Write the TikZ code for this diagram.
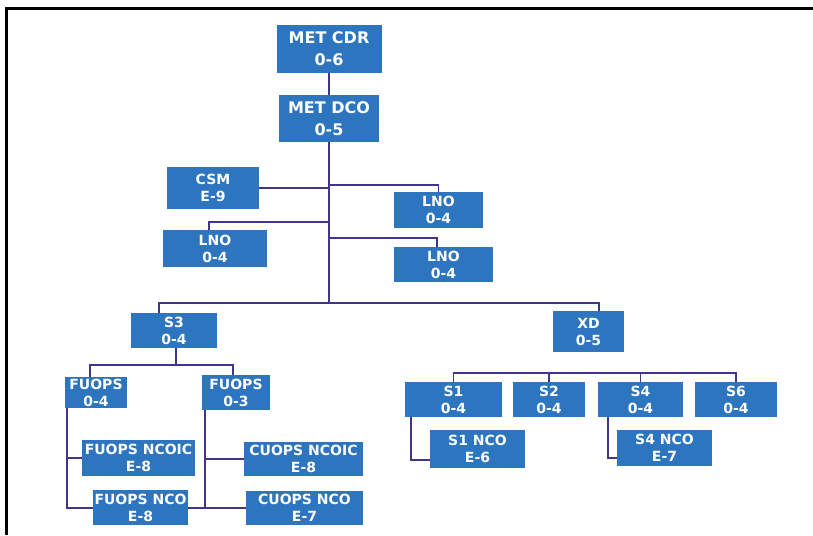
\documentclass[tikz,border=0pt]{standalone}
\usepackage{fontspec}
\setmainfont{DejaVu Sans}
\usetikzlibrary{backgrounds, positioning}
\definecolor{unit-fill}{RGB}{45,117,190}
\definecolor{link-draw}{RGB}{64,52,140}
\tikzset{
  unit/.style={fill=unit-fill, text=white, align=center, inner sep=0pt, font=\bfseries\fontsize{14}{17}\selectfont},
  cmd/.style={font=\bfseries\fontsize{16}{22}\selectfont},
  box/.style 2 args={minimum width=#1, minimum height=#2},
  link/.style={draw=link-draw, line width=1.8pt}
}
\begin{document}
\begin{tikzpicture}[x=1pt, y=-1pt]
    \useasboundingbox (0,0) rectangle (813,535);

    % Page frame
    \draw[line width=2.5pt] (6.5,535) -- (6.5,8.5) -- (813,8.5);

    % Command section
    \node[unit, cmd, box={105}{48}] (cdr) at (329,49) {MET CDR\\0-6};
    \node[unit, cmd, box={100}{47}] (dco) at (329,118.5) {MET DCO\\0-5};

    % Staff
    \node[unit, box={92}{42}] (csm) at (213,188) {CSM\\E-9};
    \node[unit, box={89}{36}] (lnoA) at (438.5,210) {LNO\\0-4};
    \node[unit, box={104}{37}] (lnoB) at (215,248.5) {LNO\\0-4};
    \node[unit, box={99}{35}] (lnoC) at (443.5,264.5) {LNO\\0-4};

    % Sections
    \node[unit, box={86}{35}] (s3) at (174,330.5) {S3\\0-4};
    \node[unit, box={71}{41}] (xd) at (588.5,331.5) {XD\\0-5};

    % S3 flights
    \node[unit, box={62}{31}] (fuA) at (96,392.5) {FUOPS\\0-4};
    \node[unit, box={68}{35}] (fuB) at (236,392.5) {FUOPS\\0-3};
    \node[unit, box={113}{36}] (fuNCOIC) at (138.5,458) {FUOPS NCOIC\\E-8};
    \node[unit, box={119}{34}] (cuNCOIC) at (303.5,459) {CUOPS NCOIC\\E-8};
    \node[unit, box={95}{35}] (fuNCO) at (140.5,507.5) {FUOPS NCO\\E-8};
    \node[unit, box={117}{34}] (cuNCO) at (304.5,508) {CUOPS NCO\\E-7};

    % XD staff
    \node[unit, box={97}{35}] (s1) at (453.5,399.5) {S1\\0-4};
    \node[unit, box={72}{35}] (s2) at (549,399.5) {S2\\0-4};
    \node[unit, box={85}{35}] (s4) at (640.5,399.5) {S4\\0-4};
    \node[unit, box={82}{35}] (s6) at (736,399.5) {S6\\0-4};
    \node[unit, box={95}{38}] (s1nco) at (477.5,449) {S1 NCO\\E-6};
    \node[unit, box={95}{36}] (s4nco) at (664.5,448) {S4 NCO\\E-7};

    \begin{scope}[on background layer]
        % Trunk
        \draw[link] (cdr) -- (dco);
        \coordinate (hub) at (dco.south |- 0,303);
        \draw[link] (dco.south) -- (hub);

        % Staff branches
        \draw[link] (dco.south |- 0,185) -| (lnoA.north);
        \draw[link] (csm.east) -- (csm.east -| hub);
        \draw[link] (dco.south |- 0,222) -| ([xshift=-6pt]lnoB.north);
        \draw[link] (dco.south |- 0,238) -| ([xshift=-6.5pt]lnoC.north);

        % Section bar
        \draw[link] ([xshift=-15pt]s3.north) |- (hub) -| ([xshift=10.5pt]xd.north);

        % S3 flights
        \draw[link] ([xshift=2pt]s3.south) -- ++(0,17);
        \draw[link] ([xshift=-6pt]fuA.north) -- ++(0,-12) -| ([xshift=-3pt]fuB.north);
        \coordinate (vA) at ([xshift=2pt]fuA.south west);
        \coordinate (vB) at ([xshift=3pt]fuB.south west);
        \draw[link] (vA) |- (cuNCO.west);
        \draw[link] (fuNCOIC.west) -- (fuNCOIC.west -| vA);
        \draw[link] (vB) -- (vB |- cuNCO.west);
        \draw[link] (cuNCOIC.west) -- (cuNCOIC.west -| vB);

        % XD staff bar
        \coordinate (xbar) at (0,373);
        \draw[link] (s1.north) -- (s1.north |- xbar) -- (s6.north |- xbar) -- (s6.north);
        \foreach \n in {s2,s4}
            \draw[link] (\n.north) -- (\n.north |- xbar);
        \draw[link] ([xshift=6pt]s1.south west) |- ([yshift=-11pt]s1nco.west);
        \draw[link] ([xshift=10pt]s4.south west) |- ([yshift=-10pt]s4nco.west);
    \end{scope}
\end{tikzpicture}
\end{document}
